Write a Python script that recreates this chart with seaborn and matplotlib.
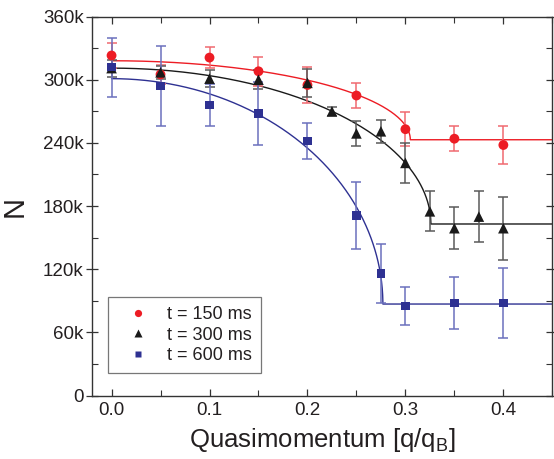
import numpy as np
import pandas as pd
import matplotlib
matplotlib.use("Agg")
import matplotlib.pyplot as plt
import seaborn as sns
from matplotlib.ticker import MultipleLocator, FuncFormatter
from matplotlib.lines import Line2D

# ---- data (N in thousands) ----
labels = ["t = 150 ms", "t = 300 ms", "t = 600 ms"]

q150 = [0.0, 0.05, 0.1, 0.15, 0.2, 0.25, 0.3, 0.35, 0.4]
n150 = [323, 305, 321, 308, 295, 285, 253, 244, 238]
e150 = [12, 9, 10, 14, 17, 12, 16, 12, 18]

q300 = [0.0, 0.05, 0.1, 0.15, 0.2, 0.225, 0.25, 0.275, 0.3, 0.325, 0.35, 0.375, 0.4]
n300 = [311, 307, 301, 300, 297, 270, 249, 251, 221, 175, 159, 170, 159]
e300 = [8, 6, 8, 9, 13, 4, 12, 11, 19, 19, 20, 24, 30]

q600 = [0.0, 0.05, 0.1, 0.15, 0.2, 0.25, 0.275, 0.3, 0.35, 0.4]
n600 = [312, 294, 276, 268, 242, 171, 116, 85, 88, 88]
e600 = [28, 38, 20, 30, 17, 32, 28, 18, 25, 33]

# fit-curve parameters: plateau, amplitude, critical quasimomentum
fit_plateau = [243, 163, 87]
fit_amp = [75, 148, 214]
fit_qc = [0.305, 0.326, 0.277]

ytick_vals = [0, 60, 120, 180, 240, 300, 360]

# ---- style ----
sns.set_theme(style="ticks")
plt.rcParams['font.family'] = ['Liberation Sans', 'DejaVu Sans']
txt = "#231f20"

marker_cols = ["#ed1c24", "#1a1a1a", "#2e3192"]
err_cols = ["#f06a70", "#5a5a5a", "#6b70bd"]
line_cols = ["#ed1c24", "#1a1a1a", "#2e3192"]
markers = ["o", "^", "s"]
msizes = [50, 58, 38]

fig = plt.figure(figsize=(5.54, 4.59), dpi=100)
ax = fig.add_axes([0.166, 0.138, 0.831, 0.826])

series = [(q150, n150, e150), (q300, n300, e300), (q600, n600, e600)]

# fit curves
for i in range(3):
    qgrid = np.unique(np.concatenate([np.linspace(0, 0.45, 900),
                                      fit_qc[i] * np.sqrt(1 - np.linspace(0, 1, 300) ** 2)]))
    ncurve = fit_plateau[i] + fit_amp[i] * np.sqrt(np.clip(1 - (qgrid / fit_qc[i]) ** 2, 0, None))
    dfc = pd.DataFrame({"q": qgrid, "N": ncurve})
    sns.lineplot(data=dfc, x="q", y="N", ax=ax, color=line_cols[i], lw=1.0,
                 sort=True, estimator=None, zorder=2)

# error bars + points
for i, (q, n, e) in enumerate(series):
    ax.errorbar(q, n, yerr=e, fmt="none", ecolor=err_cols[i], elinewidth=1.1,
                capsize=3.5, capthick=1.1, zorder=3)
    df = pd.DataFrame({"q": q, "N": n})
    sns.scatterplot(data=df, x="q", y="N", ax=ax, marker=markers[i], s=msizes[i],
                    color=marker_cols[i], edgecolor="none", zorder=4)

ax.set_xlim(-0.02, 0.45)
ax.set_ylim(0, 360)
ax.xaxis.set_major_locator(MultipleLocator(0.1))
ax.xaxis.set_minor_locator(MultipleLocator(0.05))
ax.set_yticks(ytick_vals)
ax.yaxis.set_minor_locator(MultipleLocator(30))
ax.xaxis.set_major_formatter(FuncFormatter(lambda v, p: f"{v:.1f}"))
ax.yaxis.set_major_formatter(FuncFormatter(lambda v, p: "0" if v == 0 else f"{v:.0f}k"))

ax.tick_params(axis="both", which="both", direction="in", top=True, right=True,
               colors="#333333", labelcolor=txt, labelsize=13.5)
ax.tick_params(axis="both", which="major", length=5, width=0.9)
ax.tick_params(axis="both", which="minor", length=4, width=0.8)
ax.tick_params(axis="y", which="major", direction="inout", length=8, pad=2)
ax.tick_params(axis="x", which="major", pad=4.5)
for s in ax.spines.values():
    s.set_color("#333333")
    s.set_linewidth(1.0)

ax.set_xlabel("Quasimomentum [q/q$_\\mathregular{B}$]", fontsize=18.5, color=txt, labelpad=5)
ax.set_ylabel("N", fontsize=21, color=txt, labelpad=10)

handles = [Line2D([], [], ls="none", marker=markers[i], color=marker_cols[i],
                  markersize=[5.2, 5.8, 4.6][i], markeredgecolor="none") for i in range(3)]
leg = ax.legend(handles, labels, loc="lower left", bbox_to_anchor=(0.035, 0.060),
                fontsize=13, frameon=True, fancybox=False, handletextpad=0.45,
                borderpad=0.5, labelspacing=0.18, handlelength=2.3, borderaxespad=0)
leg.get_frame().set_edgecolor("#555555")
leg.get_frame().set_linewidth(0.9)
for t in leg.get_texts():
    t.set_color(txt)

fig.savefig("out.png", dpi=100)
